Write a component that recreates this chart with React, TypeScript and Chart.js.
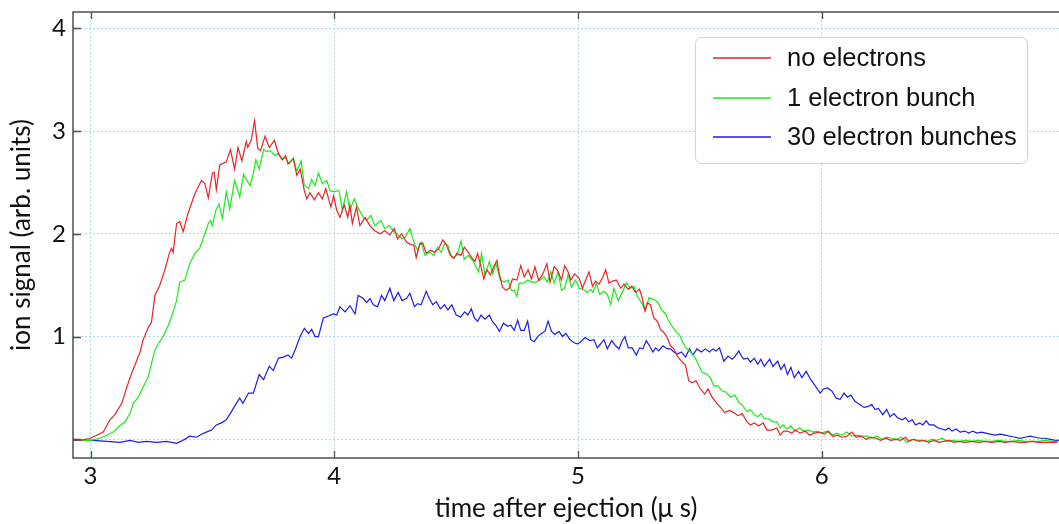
import React, { useEffect, useRef } from 'react';
import { Chart, registerables } from 'chart.js';

Chart.register(...registerables);

// Time of flight after ejection, in microseconds, and ion signal (arb. units)
const redTime = [
  2.93, 2.957, 3.0, 3.025, 3.052, 3.08, 3.1, 3.128, 3.148, 3.168, 3.182, 3.203, 3.216, 3.237, 3.25, 3.264,
  3.284, 3.305, 3.323, 3.332, 3.339, 3.353, 3.366, 3.38, 3.4, 3.428, 3.455, 3.469, 3.483, 3.5, 3.507, 3.516,
  3.53, 3.557, 3.574, 3.591, 3.605, 3.621, 3.639, 3.645, 3.659, 3.673, 3.686, 3.697, 3.716, 3.733, 3.754,
  3.771, 3.787, 3.8, 3.81, 3.832, 3.846, 3.86, 3.877, 3.887, 3.9, 3.918, 3.935, 3.951, 3.965, 3.986, 3.997,
  4.01, 4.023, 4.041, 4.055, 4.064, 4.074, 4.091, 4.105, 4.126, 4.146, 4.166, 4.187, 4.207, 4.228, 4.246,
  4.259, 4.276, 4.296, 4.31, 4.326, 4.336, 4.35, 4.363, 4.377, 4.394, 4.41, 4.427, 4.445, 4.458, 4.476, 4.49,
  4.503, 4.52, 4.533, 4.55, 4.563, 4.577, 4.588, 4.602, 4.613, 4.626, 4.64, 4.656, 4.667, 4.677, 4.69, 4.704,
  4.718, 4.731, 4.749, 4.765, 4.779, 4.795, 4.809, 4.823, 4.838, 4.854, 4.872, 4.885, 4.902, 4.915, 4.932,
  4.945, 4.959, 4.97, 4.986, 5.004, 5.018, 5.031, 5.045, 5.059, 5.072, 5.086, 5.1, 5.113, 5.127, 5.143, 5.157,
  5.175, 5.188, 5.206, 5.22, 5.236, 5.252, 5.263, 5.274, 5.284, 5.297, 5.311, 5.325, 5.338, 5.352, 5.366,
  5.379, 5.393, 5.407, 5.424, 5.441, 5.454, 5.468, 5.484, 5.502, 5.52, 5.533, 5.55, 5.566, 5.584, 5.602,
  5.621, 5.638, 5.656, 5.673, 5.686, 5.693, 5.707, 5.723, 5.741, 5.759, 5.775, 5.795, 5.816, 5.829, 5.843,
  5.859, 5.877, 5.891, 5.911, 5.932, 5.95, 5.969, 5.99, 6.01, 6.027, 6.045, 6.064, 6.082, 6.102, 6.123, 6.141,
  6.16, 6.182, 6.2, 6.222, 6.241, 6.263, 6.282, 6.304, 6.323, 6.343, 6.357, 6.377, 6.398, 6.418, 6.439, 6.459,
  6.48, 6.5, 6.521, 6.541, 6.562, 6.589, 6.616, 6.643, 6.671, 6.698, 6.725, 6.753, 6.78, 6.807, 6.834, 6.862,
  6.889, 6.916, 6.944, 6.967,
];
const redSignal = [
  0.0, -0.01, 0.01, 0.04, 0.07, 0.19, 0.24, 0.35, 0.5, 0.64, 0.72, 0.85, 0.97, 1.09, 1.14, 1.4,
  1.5, 1.65, 1.81, 1.86, 1.82, 2.1, 2.12, 2.02, 2.2, 2.39, 2.52, 2.49, 2.35, 2.59, 2.6, 2.43,
  2.67, 2.7, 2.82, 2.63, 2.84, 2.71, 2.9, 2.84, 2.91, 3.1, 2.83, 2.81, 2.95, 2.84, 2.91,
  2.78, 2.72, 2.76, 2.68, 2.73, 2.57, 2.63, 2.42, 2.34, 2.4, 2.33, 2.4, 2.34, 2.44, 2.26, 2.37,
  2.23, 2.16, 2.28, 2.16, 2.28, 2.1, 2.26, 2.08, 2.16, 2.08, 2.03, 2.0, 2.03, 1.99, 2.05,
  1.95, 2.0, 1.92, 1.9, 1.89, 1.77, 1.9, 1.91, 1.81, 1.84, 1.82, 1.85, 1.94, 1.9, 1.79, 1.76,
  1.81, 1.79, 1.87, 1.82, 1.77, 1.73, 1.81, 1.68, 1.56, 1.65, 1.6, 1.69, 1.74, 1.61, 1.48, 1.45,
  1.47, 1.56, 1.55, 1.69, 1.58, 1.65, 1.56, 1.68, 1.55, 1.6, 1.71, 1.53, 1.68, 1.65, 1.55,
  1.69, 1.63, 1.55, 1.61, 1.57, 1.47, 1.55, 1.63, 1.49, 1.54, 1.51, 1.57, 1.65, 1.52, 1.54, 1.55,
  1.47, 1.51, 1.46, 1.49, 1.43, 1.46, 1.38, 1.25, 1.33, 1.31, 1.18, 1.15, 1.07, 1.04, 0.99,
  0.91, 0.88, 0.81, 0.76, 0.72, 0.57, 0.55, 0.57, 0.49, 0.44, 0.49, 0.41, 0.36, 0.31, 0.26,
  0.28, 0.26, 0.23, 0.25, 0.2, 0.17, 0.14, 0.16, 0.13, 0.16, 0.09, 0.09, 0.11, 0.04, 0.08,
  0.08, 0.06, 0.09, 0.06, 0.08, 0.04, 0.06, 0.07, 0.05, 0.08, 0.03, 0.04, 0.02, 0.03, 0.07, 0.02,
  0.03, 0.0, 0.02, 0.01, -0.01, 0.01, -0.01, 0.0, -0.01, 0.02, -0.02, 0.0, -0.02, -0.01, -0.03, -0.01,
  -0.03, -0.02, -0.01, -0.03, -0.02, -0.03, -0.02, -0.03, -0.02, -0.03, -0.02, -0.03, -0.02, -0.03, -0.03, -0.02,
  -0.03, -0.03, -0.03, -0.03,
];

const greenTime = [
  2.93, 2.957, 3.0, 3.039, 3.066, 3.093, 3.114, 3.141, 3.162, 3.175, 3.196, 3.216, 3.237, 3.25, 3.264, 3.278,
  3.298, 3.319, 3.332, 3.353, 3.366, 3.387, 3.407, 3.428, 3.448, 3.469, 3.483, 3.492, 3.5, 3.514, 3.527, 3.541,
  3.557, 3.571, 3.591, 3.612, 3.628, 3.646, 3.655, 3.668, 3.678, 3.692, 3.71, 3.723, 3.737, 3.757, 3.771,
  3.784, 3.8, 3.814, 3.832, 3.846, 3.864, 3.877, 3.894, 3.907, 3.921, 3.935, 3.951, 3.969, 3.982, 4.0, 4.019,
  4.033, 4.05, 4.064, 4.082, 4.1, 4.119, 4.132, 4.15, 4.166, 4.191, 4.207, 4.224, 4.246, 4.262, 4.278, 4.292,
  4.31, 4.329, 4.342, 4.356, 4.372, 4.39, 4.408, 4.424, 4.438, 4.452, 4.466, 4.476, 4.486, 4.503, 4.52, 4.533,
  4.55, 4.568, 4.581, 4.592, 4.604, 4.618, 4.636, 4.65, 4.663, 4.681, 4.697, 4.713, 4.727, 4.738, 4.749,
  4.759, 4.776, 4.793, 4.809, 4.827, 4.845, 4.861, 4.874, 4.888, 4.902, 4.918, 4.932, 4.945, 4.959, 4.973,
  4.99, 5.004, 5.02, 5.038, 5.052, 5.061, 5.075, 5.089, 5.106, 5.12, 5.134, 5.147, 5.165, 5.181, 5.198, 5.216,
  5.229, 5.243, 5.261, 5.277, 5.291, 5.311, 5.329, 5.342, 5.359, 5.372, 5.386, 5.4, 5.416, 5.43, 5.443, 5.461,
  5.479, 5.495, 5.509, 5.525, 5.543, 5.557, 5.574, 5.591, 5.607, 5.625, 5.643, 5.659, 5.675, 5.693, 5.707,
  5.723, 5.737, 5.75, 5.764, 5.782, 5.799, 5.816, 5.829, 5.843, 5.857, 5.873, 5.891, 5.909, 5.925, 5.945,
  5.963, 5.98, 6.0, 6.02, 6.041, 6.061, 6.082, 6.102, 6.123, 6.143, 6.164, 6.184, 6.205, 6.225, 6.246, 6.266,
  6.286, 6.307, 6.327, 6.35, 6.371, 6.391, 6.412, 6.432, 6.452, 6.473, 6.493, 6.514, 6.534, 6.562, 6.589,
  6.616, 6.643, 6.671, 6.698, 6.725, 6.753, 6.78, 6.807, 6.834, 6.862, 6.889, 6.916, 6.944, 6.967,
];
const greenSignal = [
  0.0, -0.01, -0.01, 0.01, 0.04, 0.07, 0.12, 0.17, 0.25, 0.35, 0.41, 0.51, 0.61, 0.74, 0.87, 0.93,
  1.0, 1.11, 1.19, 1.35, 1.53, 1.55, 1.71, 1.81, 1.86, 2.0, 2.1, 2.13, 2.08, 2.23, 2.29, 2.15,
  2.41, 2.24, 2.52, 2.36, 2.58, 2.5, 2.47, 2.59, 2.72, 2.63, 2.82, 2.8, 2.81, 2.76, 2.78,
  2.73, 2.74, 2.68, 2.74, 2.61, 2.71, 2.47, 2.44, 2.53, 2.47, 2.59, 2.49, 2.52, 2.42, 2.41, 2.42,
  2.23, 2.41, 2.23, 2.34, 2.24, 2.16, 2.13, 2.18, 2.08, 2.13, 2.05, 2.08, 2.02, 1.99, 1.95, 1.97,
  2.05, 1.9, 1.84, 1.92, 1.79, 1.82, 1.79, 1.87, 1.82, 1.9, 1.89, 1.81, 1.77, 1.79, 1.93, 1.75,
  1.79, 1.74, 1.68, 1.63, 1.81, 1.6, 1.73, 1.61, 1.71, 1.55, 1.53, 1.55, 1.45, 1.45, 1.39,
  1.52, 1.52, 1.55, 1.53, 1.53, 1.55, 1.58, 1.53, 1.63, 1.52, 1.63, 1.45, 1.47, 1.6, 1.48,
  1.55, 1.47, 1.46, 1.43, 1.46, 1.43, 1.52, 1.41, 1.44, 1.41, 1.31, 1.47, 1.35, 1.43, 1.52, 1.47,
  1.49, 1.39, 1.33, 1.25, 1.38, 1.36, 1.33, 1.26, 1.22, 1.15, 1.1, 1.05, 1.02, 0.94, 0.89, 0.85,
  0.8, 0.72, 0.65, 0.64, 0.6, 0.52, 0.52, 0.47, 0.46, 0.41, 0.43, 0.36, 0.33, 0.27, 0.29,
  0.24, 0.22, 0.25, 0.2, 0.2, 0.17, 0.17, 0.11, 0.14, 0.1, 0.13, 0.08, 0.11, 0.08, 0.09,
  0.07, 0.08, 0.06, 0.08, 0.04, 0.06, 0.04, 0.07, 0.03, 0.04, 0.03, 0.03, 0.01, 0.03, 0.0, 0.02,
  0.01, 0.0, 0.02, -0.03, 0.0, -0.01, -0.01, -0.02, 0.0, -0.01, 0.01, -0.02, -0.01, -0.02, -0.01,
  -0.02, -0.01, -0.02, -0.02, -0.01, -0.02, -0.02, -0.01, -0.02, -0.02, -0.02, -0.01, -0.02, -0.02,
];

const blueTime = [
  2.93, 2.957, 3.012, 3.066, 3.121, 3.162, 3.196, 3.23, 3.271, 3.312, 3.353, 3.38, 3.407, 3.435, 3.455, 3.475,
  3.496, 3.516, 3.537, 3.557, 3.578, 3.598, 3.612, 3.625, 3.648, 3.668, 3.692, 3.71, 3.733, 3.75, 3.771, 3.791,
  3.81, 3.825, 3.839, 3.86, 3.877, 3.894, 3.907, 3.921, 3.935, 3.955, 3.976, 3.996, 4.01, 4.023, 4.044, 4.064,
  4.085, 4.098, 4.119, 4.132, 4.146, 4.16, 4.177, 4.194, 4.207, 4.228, 4.244, 4.262, 4.278, 4.296, 4.31, 4.329,
  4.342, 4.356, 4.377, 4.39, 4.404, 4.418, 4.435, 4.452, 4.466, 4.482, 4.5, 4.518, 4.535, 4.548, 4.562, 4.575,
  4.588, 4.602, 4.618, 4.636, 4.65, 4.663, 4.677, 4.694, 4.711, 4.724, 4.738, 4.752, 4.765, 4.779, 4.793, 4.806,
  4.82, 4.834, 4.85, 4.864, 4.877, 4.891, 4.905, 4.922, 4.936, 4.95, 4.967, 4.984, 4.997, 5.007, 5.029, 5.048,
  5.065, 5.079, 5.093, 5.106, 5.12, 5.138, 5.154, 5.168, 5.181, 5.192, 5.206, 5.222, 5.239, 5.252, 5.266, 5.28,
  5.293, 5.307, 5.318, 5.331, 5.348, 5.366, 5.379, 5.393, 5.407, 5.424, 5.441, 5.457, 5.471, 5.488, 5.506,
  5.522, 5.539, 5.553, 5.566, 5.58, 5.598, 5.615, 5.632, 5.645, 5.659, 5.673, 5.68, 5.696, 5.707, 5.723, 5.737,
  5.75, 5.764, 5.786, 5.799, 5.819, 5.832, 5.846, 5.859, 5.873, 5.887, 5.905, 5.918, 5.936, 5.955, 5.973,
  5.993, 6.007, 6.023, 6.041, 6.059, 6.075, 6.091, 6.105, 6.119, 6.136, 6.154, 6.173, 6.191, 6.205, 6.218,
  6.232, 6.25, 6.266, 6.28, 6.296, 6.31, 6.33, 6.343, 6.357, 6.371, 6.384, 6.401, 6.414, 6.428, 6.441, 6.459,
  6.477, 6.493, 6.507, 6.521, 6.534, 6.551, 6.568, 6.586, 6.603, 6.619, 6.637, 6.654, 6.673, 6.691, 6.712,
  6.732, 6.753, 6.773, 6.793, 6.814, 6.834, 6.855, 6.875, 6.896, 6.916, 6.937, 6.957, 6.973,
];
const blueSignal = [
  -0.01, -0.01, -0.01, -0.02, -0.03, -0.01, -0.03, -0.02, -0.03, -0.02, -0.04, -0.01, 0.03, 0.02, 0.05, 0.07,
  0.09, 0.14, 0.16, 0.19, 0.27, 0.35, 0.4, 0.35, 0.45, 0.45, 0.63, 0.58, 0.71, 0.67, 0.79, 0.8,
  0.82, 0.79, 0.87, 1.0, 1.08, 1.03, 1.07, 1.0, 1.0, 1.18, 1.2, 1.22, 1.21, 1.29, 1.24, 1.3,
  1.22, 1.4, 1.37, 1.33, 1.37, 1.31, 1.29, 1.4, 1.35, 1.47, 1.35, 1.43, 1.35, 1.37, 1.42, 1.29,
  1.32, 1.31, 1.44, 1.37, 1.31, 1.34, 1.27, 1.31, 1.26, 1.31, 1.21, 1.19, 1.24, 1.21, 1.27, 1.18,
  1.15, 1.21, 1.17, 1.21, 1.14, 1.11, 1.05, 1.13, 1.1, 1.11, 1.06, 1.16, 1.06, 1.06, 1.15, 0.97,
  0.95, 1.0, 1.03, 1.05, 1.15, 1.05, 1.02, 1.05, 1.0, 1.03, 0.97, 0.94, 0.93, 0.94, 0.99, 0.96,
  0.97, 0.89, 0.93, 0.97, 0.88, 0.96, 0.91, 0.88, 0.96, 1.0, 0.89, 0.89, 0.82, 0.89, 0.88, 0.96,
  0.91, 0.85, 0.89, 0.86, 0.91, 0.88, 0.88, 0.85, 0.83, 0.85, 0.8, 0.88, 0.82, 0.88, 0.85,
  0.88, 0.85, 0.88, 0.86, 0.89, 0.76, 0.81, 0.78, 0.81, 0.86, 0.8, 0.78, 0.79, 0.75, 0.79, 0.73,
  0.78, 0.71, 0.78, 0.71, 0.76, 0.68, 0.73, 0.63, 0.7, 0.6, 0.66, 0.6, 0.66, 0.58, 0.52,
  0.45, 0.49, 0.5, 0.47, 0.4, 0.39, 0.45, 0.41, 0.43, 0.37, 0.34, 0.31, 0.32, 0.34, 0.29,
  0.3, 0.24, 0.29, 0.22, 0.25, 0.21, 0.19, 0.21, 0.17, 0.19, 0.14, 0.16, 0.14, 0.18, 0.14, 0.14,
  0.11, 0.1, 0.09, 0.11, 0.08, 0.1, 0.07, 0.08, 0.06, 0.08, 0.06, 0.07, 0.06, 0.05, 0.04,
  0.05, 0.04, 0.03, 0.02, 0.01, 0.02, 0.03, 0.02, 0.01, 0.01, 0.0, -0.01, -0.01,
];

const seriesLabels = ['no electrons', '1 electron bunch', '30 electron bunches'];
const seriesColors = ['rgb(232,36,40)', 'rgb(24,236,24)', 'rgb(28,28,236)'];
const xTickValues = [3, 4, 5, 6];
const yTickValues = [0, 1, 2, 3, 4];
const xAxisTitle = 'time after ejection (μ s)';
const yAxisTitle = 'ion signal (arb. units)';

const axisFont = "Lato, 'Open Sans', sans-serif";
const legendFont = "'Liberation Sans', Arial, sans-serif";
const gridColor = 'rgba(160,212,232,0.85)';

// Box frame with inward tick marks on the bottom, top and left edges
const framePlugin = {
  id: 'boxFrame',
  afterDatasetsDraw(chart: any) {
    const { ctx, chartArea, scales } = chart;
    const { left, right, top, bottom } = chartArea;
    ctx.save();
    ctx.strokeStyle = '#4f4f4f';
    ctx.lineWidth = 1.5;
    ctx.beginPath();
    ctx.moveTo(right + 2, top);
    ctx.lineTo(left, top);
    ctx.lineTo(left, bottom);
    ctx.lineTo(right + 2, bottom);
    ctx.stroke();
    ctx.lineWidth = 1.3;
    ctx.beginPath();
    xTickValues.forEach((v) => {
      const px = Math.round(scales.x.getPixelForValue(v)) + 0.5;
      ctx.moveTo(px, bottom);
      ctx.lineTo(px, bottom - 7);
      ctx.moveTo(px, top);
      ctx.lineTo(px, top + 7);
    });
    yTickValues.forEach((v) => {
      const py = Math.round(scales.y.getPixelForValue(v)) + 0.5;
      ctx.moveTo(left, py);
      ctx.lineTo(left + 8, py);
    });
    ctx.stroke();
    ctx.restore();
  },
};

// Rounded legend box in the upper right corner of the plot
const legendPlugin = {
  id: 'boxLegend',
  afterDraw(chart: any) {
    const { ctx } = chart;
    const bx = 695.5;
    const by = 37.5;
    const bw = 332;
    const bh = 126;
    ctx.save();
    ctx.beginPath();
    ctx.roundRect(bx, by, bw, bh, 6);
    ctx.fillStyle = '#ffffff';
    ctx.fill();
    ctx.strokeStyle = '#d2d2d2';
    ctx.lineWidth = 1;
    ctx.stroke();
    chart.data.datasets.forEach((ds: any, i: number) => {
      const yy = 58 + Math.round(i * 39.5);
      ctx.strokeStyle = ds.borderColor;
      ctx.lineWidth = 1.5;
      ctx.beginPath();
      ctx.moveTo(713, yy);
      ctx.lineTo(771, yy);
      ctx.stroke();
      ctx.fillStyle = '#111111';
      ctx.font = `25.5px ${legendFont}`;
      ctx.textBaseline = 'middle';
      ctx.textAlign = 'left';
      ctx.fillText(ds.label, 787, yy + 1);
    });
    ctx.restore();
  },
};

export default function App() {
  const canvasRef = useRef<HTMLCanvasElement | null>(null);

  useEffect(() => {
    const canvas = canvasRef.current;
    if (!canvas) return;
    const series = [
      [redTime, redSignal],
      [greenTime, greenSignal],
      [blueTime, blueSignal],
    ];
    const chart = new Chart(canvas, {
      type: 'line',
      data: {
        datasets: series.map(([t, v], i) => ({
          label: seriesLabels[i],
          data: t.map((x, k) => ({ x, y: v[k] })),
          borderColor: seriesColors[i],
          backgroundColor: seriesColors[i],
          borderWidth: 1.2,
          pointRadius: 0,
          tension: 0,
          fill: false,
        })),
      },
      options: {
        animation: false,
        responsive: false,
        devicePixelRatio: 1,
        layout: { padding: { top: 12, right: 0, left: 0, bottom: 0 } },
        plugins: {
          legend: { display: false },
          tooltip: { enabled: false },
        },
        scales: {
          x: {
            type: 'linear',
            min: 2.928,
            max: 6.973,
            afterBuildTicks: (scale: any) => {
              scale.ticks = xTickValues.map((value) => ({ value }));
            },
            afterFit: (scale: any) => {
              scale.height = 66;
              scale.paddingLeft = 0;
              scale.paddingRight = 0;
            },
            grid: { color: gridColor, lineWidth: 1, drawTicks: false },
            border: { display: false, dash: [2, 2] },
            ticks: {
              color: '#111111',
              font: { family: axisFont, size: 24 },
              padding: 4,
              maxRotation: 0,
              autoSkip: false,
              callback: (v: any) => String(v),
            },
            title: {
              display: true,
              text: xAxisTitle,
              color: '#111111',
              font: { family: axisFont, size: 26 },
              padding: { top: 0, bottom: 0 },
            },
          },
          y: {
            type: 'linear',
            min: -0.182,
            max: 4.159,
            afterBuildTicks: (scale: any) => {
              scale.ticks = yTickValues.map((value) => ({ value }));
            },
            afterFit: (scale: any) => {
              scale.width = 73;
              scale.paddingTop = 0;
              scale.paddingBottom = 0;
            },
            grid: { color: gridColor, lineWidth: 1, drawTicks: false },
            border: { display: false, dash: [2, 2] },
            ticks: {
              color: '#111111',
              font: { family: axisFont, size: 24 },
              padding: 7,
              autoSkip: false,
              callback: (v: any) => (v === 0 ? '' : String(v)),
            },
            title: {
              display: true,
              text: yAxisTitle,
              color: '#111111',
              font: { family: axisFont, size: 26 },
              padding: { top: 6, bottom: 0 },
            },
          },
        },
      },
      plugins: [framePlugin, legendPlugin],
    });
    return () => chart.destroy();
  }, []);

  return (
    <div style={{ position: 'fixed', left: 0, top: 0, width: 1059, height: 524, background: '#ffffff' }}>
      <canvas ref={canvasRef} width={1059} height={524} />
    </div>
  );
}
